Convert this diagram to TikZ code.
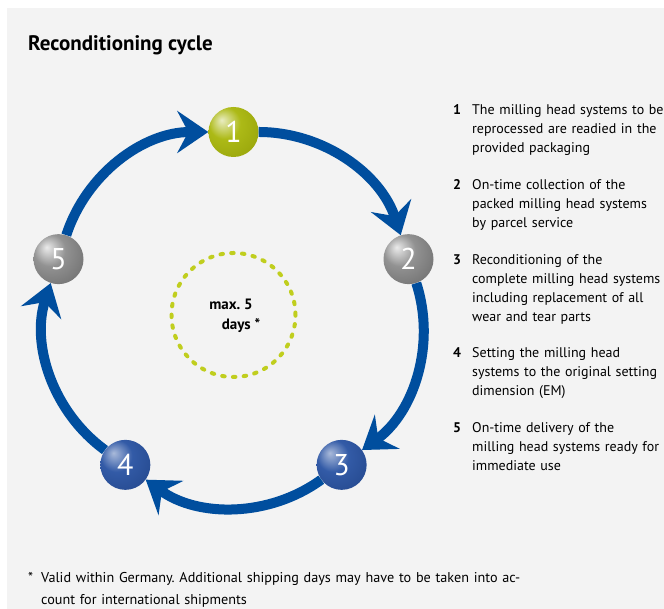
\documentclass[tikz,border=0pt]{standalone}
\usepackage{fontspec}
\setmainfont{PT Sans}
\usetikzlibrary{arrows.meta}
\frenchspacing
\definecolor{bg}{RGB}{243,243,243}
\definecolor{arrowblue}{RGB}{0,78,158}
\definecolor{ballblue}{RGB}{40,82,162}
\definecolor{ballgray}{RGB}{140,140,140}
\definecolor{ballgreen}{RGB}{168,182,10}
\definecolor{dashgreen}{RGB}{192,206,30}
\pgfdeclareradialshading{greenball}{\pgfpoint{-12bp}{12bp}}{%
  color(0bp)=(ballgreen!25!white); color(16bp)=(ballgreen!95!white);
  color(42bp)=(ballgreen!88!black); color(64bp)=(ballgreen!72!black)}
\pgfdeclareradialshading{grayball}{\pgfpoint{-12bp}{12bp}}{%
  color(0bp)=(white!92!black); color(16bp)=(ballgray!95!white);
  color(42bp)=(ballgray!75!black); color(64bp)=(ballgray!50!black)}
\pgfdeclareradialshading{blueball}{\pgfpoint{-12bp}{12bp}}{%
  color(0bp)=(ballblue!40!white); color(16bp)=(ballblue!95!white);
  color(42bp)=(ballblue!85!black); color(64bp)=(ballblue!70!black)}
\begin{document}
\begin{tikzpicture}[x=1pt,y=1pt,
  ball/.style={circle, minimum size=50pt, inner sep=0pt, text=white,
    font=\fontsize{30}{30}\selectfont},
  cyc/.style={line width=10pt, draw=arrowblue, bend left=36, looseness=0.94,
    -{Stealth[length=31pt,width=42pt,inset=11pt]}},
  listnum/.style={anchor=base west, inner sep=0pt, font=\fontsize{14}{18.7}\selectfont\bfseries},
  listtxt/.style={anchor=base west, inner sep=0pt, text width=230pt, align=left,
    font=\fontsize{14}{18.7}\selectfont},
  midtxt/.style={inner sep=0pt, font=\fontsize{15}{18}\selectfont\bfseries},
  dashring/.style={circle, minimum size=124pt, inner sep=0pt, draw=dashgreen, line width=4pt,
    dash pattern=on 2.5pt off 8.3pt, line cap=round}
]
\useasboundingbox (0,0) rectangle (664,609);
\fill[white] (0,0) rectangle (664,609);
\fill[bg] (7,0) rectangle (664,601);

\node[anchor=base west, inner sep=0pt, font=\fontsize{21}{24}\selectfont\bfseries] (title) at (28,558) {Reconditioning cycle};

\begin{scope}[shift={(233.5,293)}]
  \node[ball, shading=greenball] (b1) at (90:184) {1};
  \node[ball, shading=grayball]  (b2) at (18:184) {2};
  \node[ball, shading=blueball]  (b3) at (-54:184) {3};
  \node[ball, shading=blueball]  (b4) at (-126:184) {4};
  \node[ball, shading=grayball]  (b5) at (162:184) {5};
  \node[dashring] (ring) at (0,1) {};
\end{scope}

\draw[cyc] (b1) to (b2);
\draw[cyc] (b2) to (b3);
\draw[cyc] (b3) to (b4);
\draw[cyc] (b4) to (b5);
\draw[cyc] (b5) to (b1);

\node[midtxt] (m1) at (231,305) {max. 5};
\node[midtxt] (m2) at (241,283) {days *};

\node[listnum] (n1) at (453,494) {1};
\node[listtxt] (t1) at (472,494) {The milling head systems to be\\reprocessed are readied in the\\provided packaging};
\node[listnum] (n2) at (453,419) {2};
\node[listtxt] (t2) at (472,419) {On-time collection of the\\packed milling head systems\\by parcel service};
\node[listnum] (n3) at (453,344) {3};
\node[listtxt] (t3) at (472,344) {Reconditioning of the\\complete milling head systems\\including replacement of all\\wear and tear parts};
\node[listnum] (n4) at (453,251) {4};
\node[listtxt] (t4) at (472,251) {Setting the milling head\\systems to the original setting\\dimension (EM)};
\node[listnum] (n5) at (453,176) {5};
\node[listtxt] (t5) at (472,176) {On-time delivery of the\\milling head systems ready for\\immediate use};

\node[anchor=base west, inner sep=0pt, font=\fontsize{14.2}{18.7}\selectfont] (star) at (28,26) {*};
\node[anchor=base west, inner sep=0pt, text width=580pt, align=left, font=\fontsize{14.2}{21.5}\selectfont] (foot) at (41,26) {Valid within Germany. Additional shipping days may have to be taken into ac-\\count for international shipments};
\end{tikzpicture}
\end{document}
